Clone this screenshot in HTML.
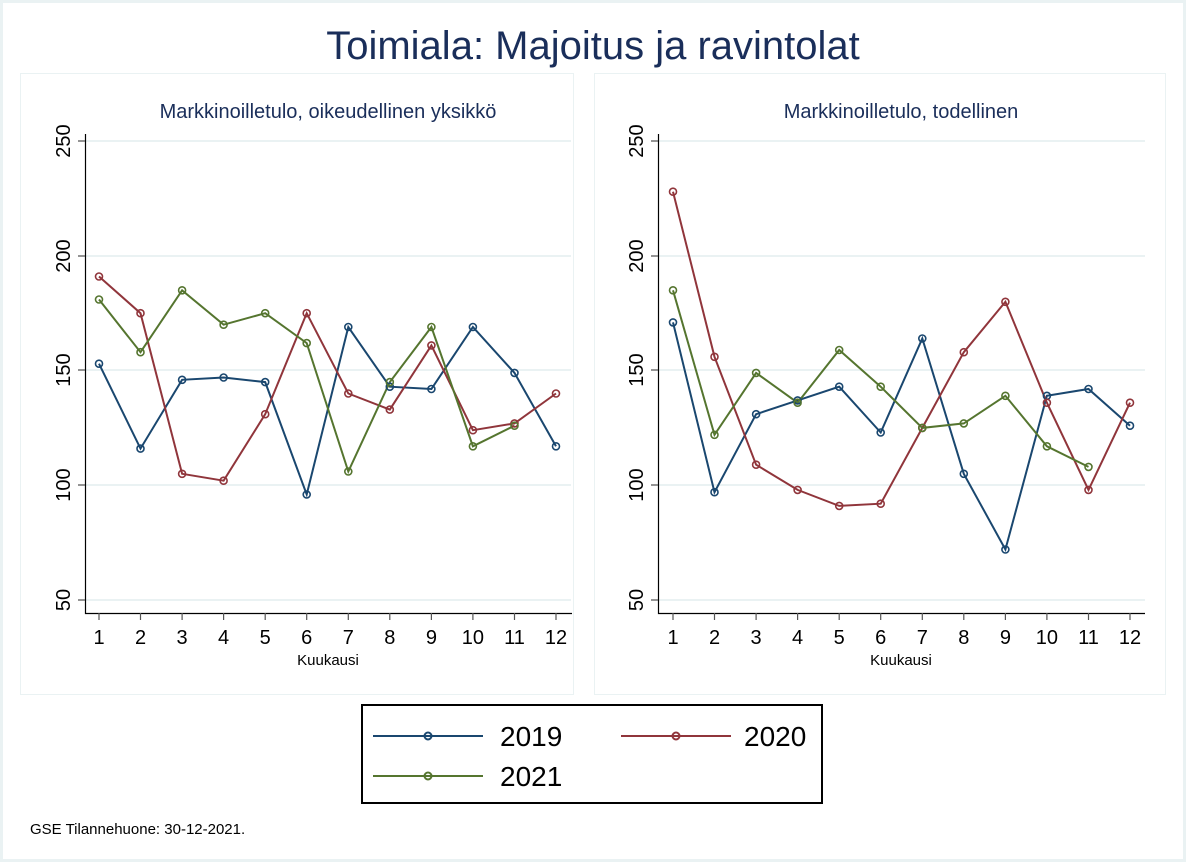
<!DOCTYPE html><html><head><meta charset="utf-8"><style>body{margin:0;background:#fff}svg{display:block}text{font-family:"Liberation Sans",sans-serif}</style></head><body>
<svg width="1186" height="862" viewBox="0 0 1186 862">
<rect x="0" y="0" width="1186" height="862" fill="#fff"/>
<rect x="1.5" y="1.5" width="1183" height="859" fill="none" stroke="#eaf2f3" stroke-width="3"/>
<rect x="20.5" y="73.5" width="553" height="621" fill="#fff" stroke="#eaf2f3"/>
<rect x="594.5" y="73.5" width="571" height="621" fill="#fff" stroke="#eaf2f3"/>
<text x="593" y="59" font-size="40" fill="#1a2e5a" text-anchor="middle">Toimiala: Majoitus ja ravintolat</text>
<text x="328" y="118" font-size="20" fill="#1a2e5a" text-anchor="middle">Markkinoilletulo, oikeudellinen yksikkö</text>
<text x="901" y="118" font-size="20" fill="#1a2e5a" text-anchor="middle">Markkinoilletulo, todellinen</text>
<g stroke="#eaf2f3" stroke-width="2">
<line x1="86" x2="571" y1="141" y2="141"/><line x1="86" x2="571" y1="256" y2="256"/><line x1="86" x2="571" y1="370" y2="370"/><line x1="86" x2="571" y1="485" y2="485"/><line x1="86" x2="571" y1="600" y2="600"/>
<line x1="659" x2="1145" y1="141" y2="141"/><line x1="659" x2="1145" y1="256" y2="256"/><line x1="659" x2="1145" y1="370" y2="370"/><line x1="659" x2="1145" y1="485" y2="485"/><line x1="659" x2="1145" y1="600" y2="600"/>
</g>
<g stroke="#000" stroke-width="1.2" fill="none">
<path d="M85.5 134V613.5H572"/><path d="M658.5 134V613.5H1145"/>
</g>
<g stroke="#555" stroke-width="1.2">
<path d="M78 141H85M78 256H85M78 370H85M78 485H85M78 600H85"/>
<path d="M651 141H658M651 256H658M651 370H658M651 485H658M651 600H658"/>
<path d="M99 613v7M140.5 613v7M182.1 613v7M223.6 613v7M265.2 613v7M306.7 613v7M348.3 613v7M389.8 613v7M431.4 613v7M472.9 613v7M514.5 613v7M556 613v7"/>
<path d="M673 613v7M714.5 613v7M756.1 613v7M797.6 613v7M839.2 613v7M880.7 613v7M922.3 613v7M963.8 613v7M1005.4 613v7M1046.9 613v7M1088.5 613v7M1130 613v7"/>
</g>
<g font-size="20" fill="#000" text-anchor="middle">
<text transform="translate(70,141) rotate(-90)">250</text><text transform="translate(70,256) rotate(-90)">200</text><text transform="translate(70,370) rotate(-90)">150</text><text transform="translate(70,485) rotate(-90)">100</text><text transform="translate(70,600) rotate(-90)">50</text>
<text transform="translate(643,141) rotate(-90)">250</text><text transform="translate(643,256) rotate(-90)">200</text><text transform="translate(643,370) rotate(-90)">150</text><text transform="translate(643,485) rotate(-90)">100</text><text transform="translate(643,600) rotate(-90)">50</text>
<text x="99" y="644">1</text><text x="140.5" y="644">2</text><text x="182.1" y="644">3</text><text x="223.6" y="644">4</text><text x="265.2" y="644">5</text><text x="306.7" y="644">6</text><text x="348.3" y="644">7</text><text x="389.8" y="644">8</text><text x="431.4" y="644">9</text><text x="472.9" y="644">10</text><text x="514.5" y="644">11</text><text x="556" y="644">12</text>
<text x="673" y="644">1</text><text x="714.5" y="644">2</text><text x="756.1" y="644">3</text><text x="797.6" y="644">4</text><text x="839.2" y="644">5</text><text x="880.7" y="644">6</text><text x="922.3" y="644">7</text><text x="963.8" y="644">8</text><text x="1005.4" y="644">9</text><text x="1046.9" y="644">10</text><text x="1088.5" y="644">11</text><text x="1130" y="644">12</text>
</g>
<text x="328" y="665" font-size="15" text-anchor="middle">Kuukausi</text>
<text x="901" y="665" font-size="15" text-anchor="middle">Kuukausi</text>
<g fill="none" stroke-width="2">
<polyline stroke="#1a476f" points="99,363.7 140.5,448.6 182.1,379.8 223.6,377.5 265.2,382.1 306.7,494.5 348.3,327 389.8,386.7 431.4,389 472.9,327 514.5,372.9 556,446.3"/>
<polyline stroke="#90353b" points="99,276.5 140.5,313.2 182.1,473.8 223.6,480.7 265.2,414.2 306.7,313.2 348.3,393.5 389.8,409.6 431.4,345.4 472.9,430.2 514.5,423.4 556,393.5"/>
<polyline stroke="#55752f" points="99,299.5 140.5,352.2 182.1,290.3 223.6,324.7 265.2,313.2 306.7,343.1 348.3,471.5 389.8,382.1 431.4,327 472.9,446.3 514.5,425.7"/>
<polyline stroke="#1a476f" points="673,322.4 714.5,492.2 756.1,414.2 797.6,400.4 839.2,386.7 880.7,432.5 922.3,338.5 963.8,473.8 1005.4,549.5 1046.9,395.8 1088.5,389 1130,425.7"/>
<polyline stroke="#90353b" points="673,191.7 714.5,356.8 756.1,464.7 797.6,489.9 839.2,505.9 880.7,503.7 922.3,427.9 963.8,352.2 1005.4,301.8 1046.9,402.7 1088.5,489.9 1130,402.7"/>
<polyline stroke="#55752f" points="673,290.3 714.5,434.8 756.1,372.9 797.6,402.7 839.2,350 880.7,386.7 922.3,427.9 963.8,423.4 1005.4,395.8 1046.9,446.3 1088.5,466.9"/>
</g>
<g fill="none" stroke-width="1.6">
<g stroke="#1a476f"><circle cx="99" cy="363.7" r="3.5"/><circle cx="140.5" cy="448.6" r="3.5"/><circle cx="182.1" cy="379.8" r="3.5"/><circle cx="223.6" cy="377.5" r="3.5"/><circle cx="265.2" cy="382.1" r="3.5"/><circle cx="306.7" cy="494.5" r="3.5"/><circle cx="348.3" cy="327" r="3.5"/><circle cx="389.8" cy="386.7" r="3.5"/><circle cx="431.4" cy="389" r="3.5"/><circle cx="472.9" cy="327" r="3.5"/><circle cx="514.5" cy="372.9" r="3.5"/><circle cx="556" cy="446.3" r="3.5"/>
<circle cx="673" cy="322.4" r="3.5"/><circle cx="714.5" cy="492.2" r="3.5"/><circle cx="756.1" cy="414.2" r="3.5"/><circle cx="797.6" cy="400.4" r="3.5"/><circle cx="839.2" cy="386.7" r="3.5"/><circle cx="880.7" cy="432.5" r="3.5"/><circle cx="922.3" cy="338.5" r="3.5"/><circle cx="963.8" cy="473.8" r="3.5"/><circle cx="1005.4" cy="549.5" r="3.5"/><circle cx="1046.9" cy="395.8" r="3.5"/><circle cx="1088.5" cy="389" r="3.5"/><circle cx="1130" cy="425.7" r="3.5"/></g>
<g stroke="#90353b"><circle cx="99" cy="276.5" r="3.5"/><circle cx="140.5" cy="313.2" r="3.5"/><circle cx="182.1" cy="473.8" r="3.5"/><circle cx="223.6" cy="480.7" r="3.5"/><circle cx="265.2" cy="414.2" r="3.5"/><circle cx="306.7" cy="313.2" r="3.5"/><circle cx="348.3" cy="393.5" r="3.5"/><circle cx="389.8" cy="409.6" r="3.5"/><circle cx="431.4" cy="345.4" r="3.5"/><circle cx="472.9" cy="430.2" r="3.5"/><circle cx="514.5" cy="423.4" r="3.5"/><circle cx="556" cy="393.5" r="3.5"/>
<circle cx="673" cy="191.7" r="3.5"/><circle cx="714.5" cy="356.8" r="3.5"/><circle cx="756.1" cy="464.7" r="3.5"/><circle cx="797.6" cy="489.9" r="3.5"/><circle cx="839.2" cy="505.9" r="3.5"/><circle cx="880.7" cy="503.7" r="3.5"/><circle cx="922.3" cy="427.9" r="3.5"/><circle cx="963.8" cy="352.2" r="3.5"/><circle cx="1005.4" cy="301.8" r="3.5"/><circle cx="1046.9" cy="402.7" r="3.5"/><circle cx="1088.5" cy="489.9" r="3.5"/><circle cx="1130" cy="402.7" r="3.5"/></g>
<g stroke="#55752f"><circle cx="99" cy="299.5" r="3.5"/><circle cx="140.5" cy="352.2" r="3.5"/><circle cx="182.1" cy="290.3" r="3.5"/><circle cx="223.6" cy="324.7" r="3.5"/><circle cx="265.2" cy="313.2" r="3.5"/><circle cx="306.7" cy="343.1" r="3.5"/><circle cx="348.3" cy="471.5" r="3.5"/><circle cx="389.8" cy="382.1" r="3.5"/><circle cx="431.4" cy="327" r="3.5"/><circle cx="472.9" cy="446.3" r="3.5"/><circle cx="514.5" cy="425.7" r="3.5"/>
<circle cx="673" cy="290.3" r="3.5"/><circle cx="714.5" cy="434.8" r="3.5"/><circle cx="756.1" cy="372.9" r="3.5"/><circle cx="797.6" cy="402.7" r="3.5"/><circle cx="839.2" cy="350" r="3.5"/><circle cx="880.7" cy="386.7" r="3.5"/><circle cx="922.3" cy="427.9" r="3.5"/><circle cx="963.8" cy="423.4" r="3.5"/><circle cx="1005.4" cy="395.8" r="3.5"/><circle cx="1046.9" cy="446.3" r="3.5"/><circle cx="1088.5" cy="466.9" r="3.5"/></g>
</g>
<rect x="362" y="705" width="460" height="98" fill="#fff" stroke="#000" stroke-width="2"/>
<g fill="none" stroke-width="2">
<line x1="373" x2="483" y1="736" y2="736" stroke="#1a476f"/><circle cx="428" cy="736" r="3.5" stroke="#1a476f"/>
<line x1="621" x2="731" y1="736" y2="736" stroke="#90353b"/><circle cx="676" cy="736" r="3.5" stroke="#90353b"/>
<line x1="373" x2="483" y1="776" y2="776" stroke="#55752f"/><circle cx="428" cy="776" r="3.5" stroke="#55752f"/>
</g>
<g font-size="28" fill="#000">
<text x="500" y="746">2019</text><text x="744" y="746">2020</text><text x="500" y="786">2021</text>
</g>
<text x="30" y="834" font-size="15">GSE Tilannehuone: 30-12-2021.</text>
</svg>
</body></html>
